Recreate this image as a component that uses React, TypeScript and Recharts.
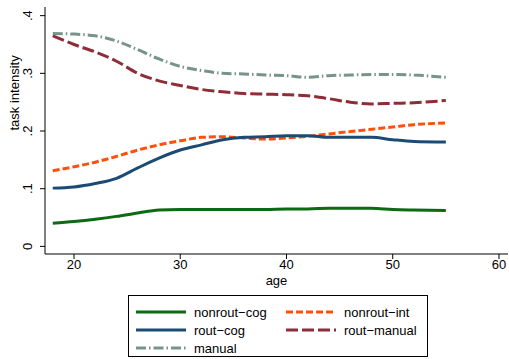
import React from 'react';
import { LineChart, Line, XAxis, YAxis } from 'recharts';

const ages = [18, 20, 22, 24, 26, 28, 30, 32, 34, 36, 38, 40, 42, 44, 46, 48, 50, 52, 55];

const nonroutCog = [0.040, 0.043, 0.047, 0.052, 0.058, 0.063, 0.064, 0.064, 0.064, 0.064, 0.064, 0.065, 0.065, 0.066, 0.066, 0.066, 0.064, 0.063, 0.062];
const nonroutInt = [0.131, 0.138, 0.146, 0.156, 0.167, 0.176, 0.183, 0.189, 0.190, 0.188, 0.186, 0.188, 0.191, 0.195, 0.199, 0.203, 0.207, 0.211, 0.214];
const routCog = [0.101, 0.103, 0.109, 0.118, 0.136, 0.153, 0.167, 0.176, 0.185, 0.189, 0.190, 0.192, 0.192, 0.189, 0.189, 0.189, 0.185, 0.182, 0.181];
const routManual = [0.365, 0.350, 0.337, 0.321, 0.300, 0.287, 0.279, 0.272, 0.268, 0.265, 0.264, 0.263, 0.261, 0.256, 0.250, 0.247, 0.248, 0.249, 0.253];
const manual = [0.369, 0.368, 0.365, 0.356, 0.341, 0.325, 0.312, 0.305, 0.300, 0.299, 0.297, 0.296, 0.293, 0.296, 0.297, 0.298, 0.298, 0.297, 0.293];

const xTicks = [20, 30, 40, 50, 60];
const yTicks = [0, 0.1, 0.2, 0.3, 0.4];
const yTickLabels = ['0', '.1', '.2', '.3', '.4'];

const data = ages.map((age, i) => ({
  age,
  nonroutCog: nonroutCog[i],
  nonroutInt: nonroutInt[i],
  routCog: routCog[i],
  routManual: routManual[i],
  manual: manual[i],
}));

const series = [
  { key: 'nonroutCog', name: 'nonrout\u2212cog', color: '#0b6a12', dash: undefined },
  { key: 'nonroutInt', name: 'nonrout\u2212int', color: '#ff4f0a', dash: '7 3' },
  { key: 'routCog', name: 'rout\u2212cog', color: '#1b4a74', dash: undefined },
  { key: 'routManual', name: 'rout\u2212manual', color: '#8e2d38', dash: '12 4' },
  { key: 'manual', name: 'manual', color: '#76948a', dash: '10 3 1.5 3' },
];

const FONT = '"Liberation Sans", Arial, Helvetica, sans-serif';

const YTick = (props: any) => {
  const { x, y, payload } = props;
  const idx = yTicks.indexOf(payload.value);
  return (
    <text
      x={0}
      y={0}
      transform={`translate(${x - 6},${y}) rotate(-90)`}
      textAnchor="middle"
      fontSize={13}
      fontFamily={FONT}
      fill="#000"
    >
      {idx >= 0 ? yTickLabels[idx] : payload.value}
    </text>
  );
};

export default function App() {
  return (
    <div style={{ position: 'absolute', left: 0, top: 0, width: 509, height: 359, background: '#fff', fontFamily: FONT }}>
      <LineChart width={509} height={359} data={data} margin={{ top: 7, right: 1, left: 0, bottom: 0 }}>
        <XAxis
          dataKey="age"
          type="number"
          domain={[17.27, 60.85]}
          ticks={xTicks}
          allowDataOverflow
          tickSize={5}
          stroke="#000"
          tick={{ fontSize: 13, fontFamily: FONT, fill: '#000' }}
          tickMargin={1}
          height={105}
          label={{ value: 'age', position: 'insideTop', offset: 22, fontSize: 13, fontFamily: FONT, fill: '#000' }}
        />
        <XAxis xAxisId="top" dataKey="age" type="number" domain={[17.27, 60.85]} orientation="top" tick={false} tickLine={false} stroke="#000" height={0} />
        <YAxis
          type="number"
          domain={[-0.0132, 0.415]}
          ticks={yTicks}
          allowDataOverflow
          tickSize={5}
          stroke="#000"
          tick={<YTick />}
          width={45}
          label={{ value: 'task intensity', angle: -90, position: 'insideLeft', offset: 14, fontSize: 13, fontFamily: FONT, fill: '#000' }}
        />
        <YAxis yAxisId="right" orientation="right" tick={false} tickLine={false} stroke="#555" width={0} />
        {series.map((s) => (
          <Line
            key={s.key}
            type="monotone"
            dataKey={s.key}
            name={s.name}
            stroke={s.color}
            strokeWidth={3}
            strokeDasharray={s.dash}
            dot={false}
            isAnimationActive={false}
          />
        ))}
      </LineChart>
      <div
        style={{
          position: 'absolute',
          left: 128,
          top: 295,
          width: 300,
          height: 62,
          border: '1px solid #000',
          boxSizing: 'border-box',
          display: 'grid',
          gridTemplateColumns: '150px 150px',
          gridAutoRows: '18px',
          paddingTop: 7,
          fontSize: 13,
        }}
      >
        {series.map((s) => (
          <div key={s.key} style={{ display: 'flex', alignItems: 'center', paddingLeft: 6 }}>
            <svg width={52} height={6} style={{ marginRight: 7 }}>
              <line x1={1} y1={3} x2={51} y2={3} stroke={s.color} strokeWidth={3} strokeDasharray={s.dash} />
            </svg>
            <span>{s.name}</span>
          </div>
        ))}
      </div>
    </div>
  );
}
